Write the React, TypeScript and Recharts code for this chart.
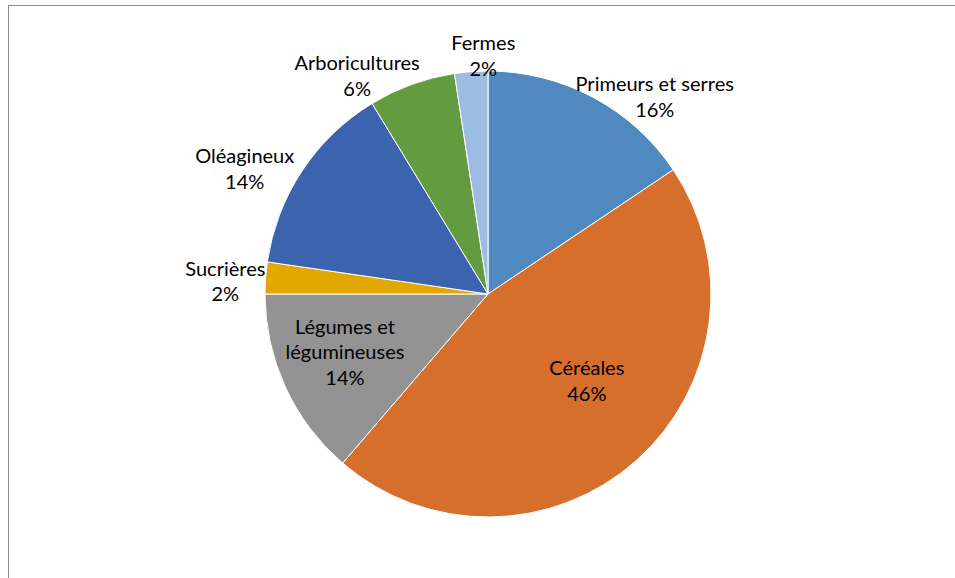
import React from 'react';
import { PieChart, Pie, Cell } from 'recharts';

const categories = [
  'Primeurs et serres',
  'Céréales',
  'Légumes et légumineuses',
  'Sucrières',
  'Oléagineux',
  'Arboricultures',
  'Fermes',
];
const labelText = [
  'Primeurs et serres',
  'Céréales',
  'Légumes et\nlégumineuses',
  'Sucrières',
  'Oléagineux',
  'Arboricultures',
  'Fermes',
];
const shares = [15.6, 45.7, 13.7, 2.3, 14.0, 6.3, 2.4];

const colors = ['#4F89BF', '#D56F2B', '#939393', '#E3A800', '#3C63AE', '#629B40', '#9DBCE2'];
// label layout: [radial distance, angular shift in degrees (clockwise)]
const labelLayout: [number, number][] = [
  [259, 12],
  [131, -7.4],
  [154, 2.9],
  [263, -1.2],
  [274, -6.1],
  [255, -10.9],
  [239, 3.2],
];

const data = categories.map((name, i) => ({ name, value: shares[i] }));

const RAD = Math.PI / 180;

const renderLabel = (props: any) => {
  const { cx, cy, midAngle, percent, index } = props;
  const [r, shift] = labelLayout[index];
  const ang = midAngle - shift; // recharts: counterclockwise degrees
  const x = cx + r * Math.cos(-ang * RAD);
  const y = cy + r * Math.sin(-ang * RAD);
  const lines = [...labelText[index].split('\n'), `${Math.round(percent * 100)}%`];
  const lh = 25.5;
  const y0 = y - ((lines.length - 1) * lh) / 2;
  return (
    <text
      x={x}
      y={y0}
      textAnchor="middle"
      dominantBaseline="central"
      fontFamily="Lato, 'Open Sans', sans-serif"
      fontSize={20}
      fill="#000"
    >
      {lines.map((l, k) => (
        <tspan key={k} x={x} y={y0 + k * lh} dominantBaseline="central">
          {l}
        </tspan>
      ))}
    </text>
  );
};

export default function App() {
  return (
    <div style={{ position: 'absolute', left: 0, top: 0, width: 955, height: 578, overflow: 'hidden', background: '#fff' }}>
      <div
        style={{
          position: 'absolute',
          left: 8,
          top: 5,
          width: 1100,
          height: 700,
          borderLeft: '1px solid #8a8a8a',
          borderTop: '1px solid #8a8a8a',
          pointerEvents: 'none',
        }}
      />
      <div style={{ position: 'absolute', left: 0, top: 0 }}>
        <PieChart width={955} height={578} margin={{ top: 0, right: 0, bottom: 0, left: 0 }}>
          <Pie
            data={data}
            dataKey="value"
            nameKey="name"
            cx={488}
            cy={294}
            outerRadius={223}
            startAngle={90}
            endAngle={-270}
            stroke="#fff"
            strokeWidth={1}
            label={renderLabel}
            labelLine={false}
            isAnimationActive={false}
          >
            {data.map((d, i) => (
              <Cell key={d.name} fill={colors[i]} />
            ))}
          </Pie>
        </PieChart>
      </div>
    </div>
  );
}
